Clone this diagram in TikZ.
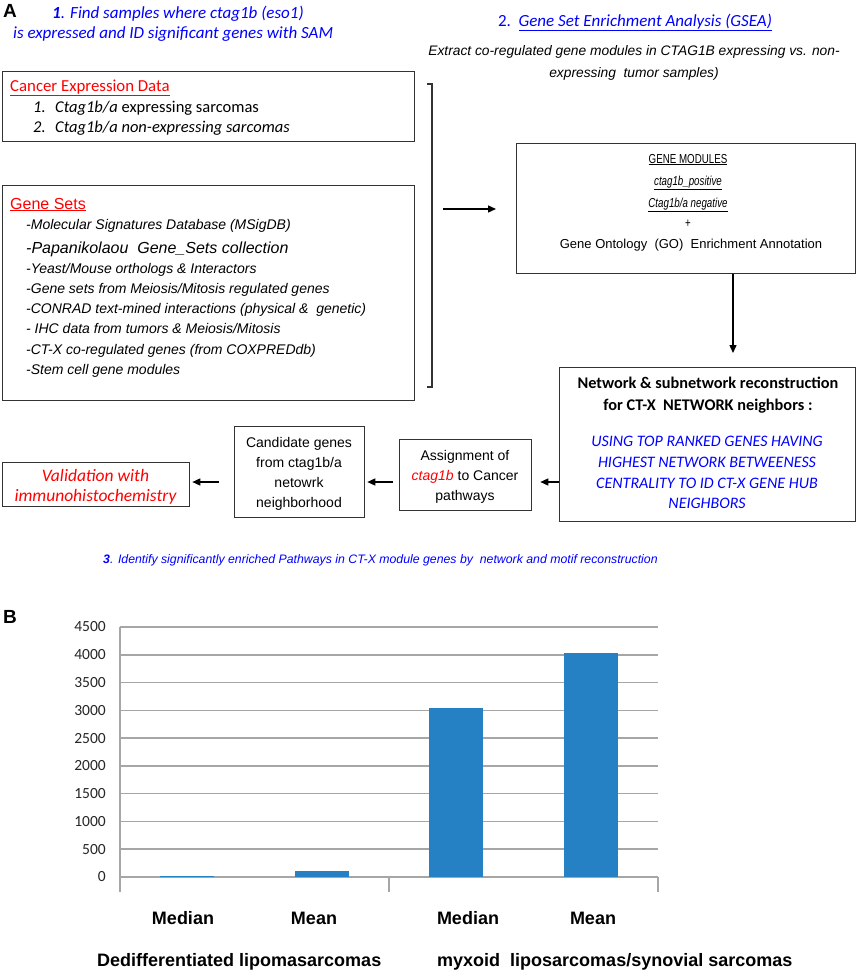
\documentclass[tikz,border=0pt]{standalone}
\usepackage{fontspec}
\setmainfont{Liberation Sans}
\newfontfamily\calfont{Carlito}
\newfontfamily\narrowfont{Liberation Sans}[FakeStretch=0.75]
\usetikzlibrary{arrows.meta}
\definecolor{myblue}{RGB}{0,0,255}
\definecolor{myred}{RGB}{255,0,0}
\definecolor{barblue}{RGB}{38,128,196}
\definecolor{gridgray}{RGB}{166,166,166}
\newcommand\fsz[1]{\fontsize{#1}{#1}\selectfont}
\begin{document}
\begin{tikzpicture}[x=1pt,y=-1pt,
  box/.style={draw=black!80, line width=1.3pt, inner sep=0pt, anchor=north west},
  txt/.style={inner sep=0pt, anchor=base west},
  ctxt/.style={inner sep=0pt, anchor=base},
  arr/.style={line width=1.4pt, -{Triangle[length=8pt,width=7pt]}},
  gridln/.style={draw=gridgray, line width=1.5pt},
  gsitem/.style={txt, font=\itshape\fsz{14}},
  gmtext/.style={ctxt, font=\narrowfont\fsz{13}},
  nettitle/.style={ctxt, font=\calfont\bfseries\fsz{16.3}},
  netblue/.style={ctxt, font=\calfont\itshape\fsz{16}, text=myblue},
  smallbox/.style={ctxt, font=\fsz{14}},
  barlbl/.style={ctxt, font=\bfseries\fsz{18}},
]
\useasboundingbox (0,0) rectangle (858,977);
\fill[white] (0,0) rectangle (858,977);

% panel labels
\node[txt, font=\bfseries\fsz{19}] (A) at (3,17) {A};
\node[txt, font=\bfseries\fsz{19}] (B) at (3,623) {B};

% header 1
\node[txt, font=\calfont\itshape\fsz{17}, text=myblue] (h1a) at (52,19) {{\bfseries 1}. Find samples where ctag1b (eso1)};
\node[txt, font=\calfont\itshape\fsz{17}, text=myblue] (h1b) at (13,38) {is expressed and ID significant genes with SAM};

% header 2
\node[ctxt, font=\calfont\fsz{17}, text=myblue] (h2) at (635,26) {2.\ \ \underline{\itshape Gene Set Enrichment Analysis (GSEA)}};
\node[ctxt, font=\itshape\fsz{13.8}] (ex1) at (634,55) {Extract co-regulated gene modules in CTAG1B expressing vs. non-};
\node[ctxt, font=\itshape\fsz{13.8}] (ex2) at (634,77) {expressing\ \ tumor samples)};

% Cancer expression data box
\node[box, minimum width=412pt, minimum height=70pt] (ced) at (2,71) {};
\node[txt, font=\calfont\fsz{16.8}, text=myred] (ced0) at (10,91) {\underline{Cancer Expression Data}};
\node[txt, font=\calfont\itshape\fsz{16.5}] (ced1n) at (33,112) {1.};
\node[txt, font=\calfont\fsz{16.5}] (ced1) at (55,112) {\textit{Ctag1b/a} expressing sarcomas};
\node[txt, font=\calfont\itshape\fsz{16.5}] (ced2n) at (33,132) {2.};
\node[txt, font=\calfont\itshape\fsz{16.5}] (ced2) at (55,132) {Ctag1b/a non-expressing sarcomas};

% Gene sets box
\node[box, minimum width=412pt, minimum height=215pt] (gs) at (2,185) {};
\node[txt, font=\fsz{16}, text=myred] (gs0) at (10,209) {\underline{Gene Sets}};
\node[gsitem] (gs1) at (26,229) {-Molecular Signatures Database (MSigDB)};
\node[gsitem, font=\itshape\fsz{16}] (gs2) at (26,253) {-Papanikolaou\ \ Gene\_Sets collection};
\node[gsitem] (gs3) at (26,273) {-Yeast/Mouse orthologs \& Interactors};
\node[gsitem] (gs4) at (26,293) {-Gene sets from Meiosis/Mitosis regulated genes};
\node[gsitem] (gs5) at (26,313) {-CONRAD text-mined interactions (physical \&\ \ genetic)};
\node[gsitem] (gs6) at (26,333) {- IHC data from tumors \& Meiosis/Mitosis};
\node[gsitem] (gs7) at (26,354) {-CT-X co-regulated genes (from COXPREDdb)};
\node[gsitem] (gs8) at (26,374) {-Stem cell gene modules};

% bracket and arrow
\coordinate (brt) at (432,84);
\coordinate (brb) at (432,387);
\draw[line width=1.3pt, draw=black!80] ([xshift=-5pt]brt) -- (brt) -- (brb) -- ([xshift=-5pt]brb);
\coordinate (a1s) at (443,209);
\coordinate (a1e) at (496,209);
\draw[arr] (a1s) -- (a1e);

% Gene modules box
\node[box, minimum width=339pt, minimum height=130pt] (gm) at (516,143) {};
\node[gmtext] (gm1) at (688,163) {\underline{GENE MODULES}};
\node[gmtext] (gm2) at (688,185) {\underline{\itshape ctag1b\_positive}};
\node[gmtext] (gm3) at (688,207) {\underline{\itshape Ctag1b/a negative}};
\node[gmtext] (gm4) at (688,227) {+};
\node[ctxt, font=\fsz{13}] (gm5) at (691,248) {Gene Ontology\ \ (GO)\ \ Enrichment Annotation};

% down arrow
\coordinate (d2) at (733,353);
\draw[arr] (gm.south -| d2) -- (d2);

% Network box
\node[box, minimum width=296pt, minimum height=154pt] (net) at (559,367) {};
\node[nettitle] (net1) at (708,388) {Network \& subnetwork reconstruction};
\node[nettitle] (net2) at (708,410) {for CT-X\ \ NETWORK neighbors :};
\node[netblue] (net3) at (707,446) {USING TOP RANKED GENES HAVING};
\node[netblue] (net4) at (707,467) {HIGHEST NETWORK BETWEENESS};
\node[netblue] (net5) at (707,488) {CENTRALITY TO ID CT-X GENE HUB};
\node[netblue] (net6) at (707,508) {NEIGHBORS};

% Assignment box
\node[box, minimum width=132pt, minimum height=71pt] (asg) at (399,439) {};
\node[smallbox] (asg1) at (465,460) {Assignment of};
\node[smallbox] (asg2) at (465,480) {\textcolor{myred}{\itshape ctag1b} to Cancer};
\node[smallbox] (asg3) at (465,500) {pathways};

% Candidate box
\node[box, minimum width=130pt, minimum height=91pt] (cand) at (234,426) {};
\node[smallbox] (cand1) at (299,447) {Candidate genes};
\node[smallbox] (cand2) at (299,467) {from ctag1b/a};
\node[smallbox] (cand3) at (299,487) {netowrk};
\node[smallbox] (cand4) at (299,507) {neighborhood};

% Validation box
\node[box, minimum width=187pt, minimum height=44pt] (valid) at (2,462) {};
\node[ctxt, font=\calfont\itshape\fsz{17.5}, text=myred] (val1) at (95.5,481) {Validation with};
\node[ctxt, font=\calfont\itshape\fsz{17.5}, text=myred] (val2) at (95.5,501) {immunohistochemistry};

% horizontal arrows
\coordinate (ly) at (0,482);
\draw[arr, shorten >=8pt] (net.west |- ly) -- (asg.east |- ly);
\draw[arr, shorten <=6pt, shorten >=2pt] (asg.west |- ly) -- (cand.east |- ly);
\draw[arr, shorten <=15pt, shorten >=2pt] (cand.west |- ly) -- (valid.east |- ly);

% step 3
\node[txt, font=\itshape\fsz{12.3}, text=myblue] (l3) at (103,563) {{\bfseries 3}. Identify significantly enriched Pathways in CT-X module genes by\ \ network and motif reconstruction};

% chart
\foreach \v in {0,500,...,4500} {
  \draw[gridln] (120,{877-\v/18}) -- (658,{877-\v/18});
  \node[anchor=east, inner sep=0pt, font=\calfont\fsz{15.5}, text=black!85] (yl\v) at (106,{877-\v/18}) {\v};
}
\draw[gridln, line width=1.2pt] (120,627) -- (120,892);
\draw[gridln, line width=1.2pt] (389,877) -- (389,892);
\draw[gridln, line width=1.2pt] (658,877) -- (658,892);
\fill[barblue] (160,877) rectangle (214,{877-25/18});
\fill[barblue] (294.5,877) rectangle (348.5,{877-110/18});
\fill[barblue] (429,877) rectangle (483,{877-3050/18});
\fill[barblue] (563.5,877) rectangle (617.5,{877-4030/18});

\node[barlbl] (m1) at (183,924) {Median};
\node[barlbl] (m2) at (314,924) {Mean};
\node[barlbl] (m3) at (468,924) {Median};
\node[barlbl] (m4) at (593,924) {Mean};
\node[txt, font=\bfseries\fsz{18}] (g1) at (97,966) {Dedifferentiated lipomasarcomas};
\node[txt, font=\bfseries\fsz{18}] (g2) at (437,966) {myxoid\ \ liposarcomas/synovial sarcomas};
\end{tikzpicture}
\end{document}
